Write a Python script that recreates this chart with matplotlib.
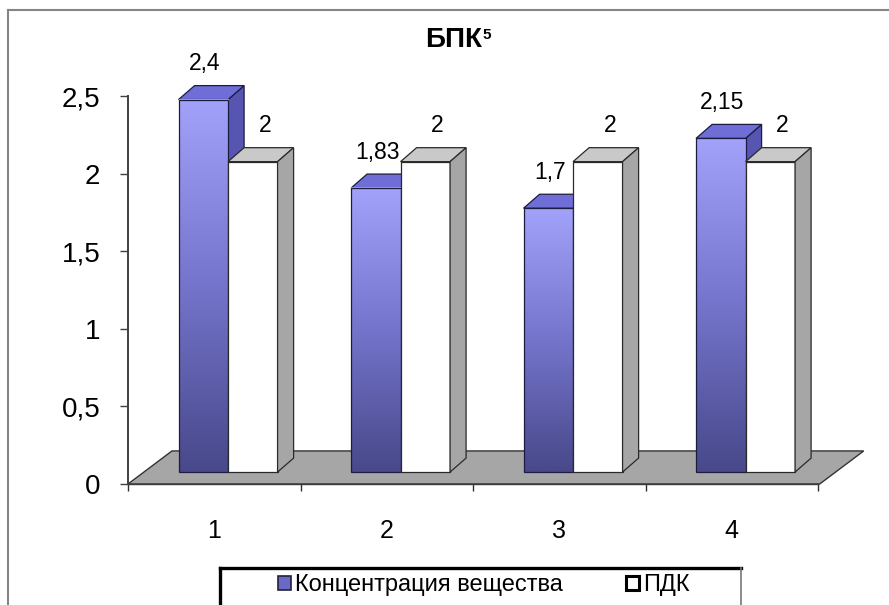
import numpy as np
import matplotlib
matplotlib.use('Agg')
import matplotlib.pyplot as plt
from matplotlib.patches import Polygon, Rectangle, Patch
from matplotlib.colors import LinearSegmentedColormap
from matplotlib.lines import Line2D

# ---- data ----
categories = ['1', '2', '3', '4']
concentration = [2.4, 1.83, 1.7, 2.15]
pdk = [2, 2, 2, 2]
conc_labels = ['2,4', '1,83', '1,7', '2,15']
pdk_labels = ['2', '2', '2', '2']
y_ticks = [0, 0.5, 1, 1.5, 2, 2.5]
y_tick_labels = ['0', '0,5', '1', '1,5', '2', '2,5']
series_names = ['Концентрация вещества', 'ПДК']
title_main = 'БПК'
title_sup = '5'

plt.rcParams['font.family'] = ['Liberation Sans', 'DejaVu Sans']

W, H = 889, 605
fig = plt.figure(figsize=(W / 100, H / 100), dpi=100)
fig.patch.set_facecolor('white')

ax = fig.add_axes([128 / W, 1 - 484 / H, 690 / W, 388 / H])
ax.patch.set_visible(False)

# oblique 3-D projection offsets (data units)
bar_w = 0.287
plane_dx, plane_dy = 0.08, 0.077     # bar front plane relative to the axis plane
depth_dx, depth_dy = 0.093, 0.09     # bar depth
floor_dx, floor_dy = 0.255, 0.213    # floor depth
floor_right = 4.01

blue_cmap = LinearSegmentedColormap.from_list(
    'bluebar', ['#48488a', '#7474cc', '#a2a2fa'])
edge_blue = '#1c1c40'
edge_gray = '#2a2a2a'

# floor
floor = Polygon([(0, 0), (floor_right, 0),
                 (floor_right + floor_dx, floor_dy), (floor_dx, floor_dy)],
                closed=True, facecolor='#a6a6a6', edgecolor='#333333',
                lw=1.0, zorder=1, clip_on=False)
ax.add_patch(floor)


def box_faces(x0, v):
    y0 = plane_dy
    yt = plane_dy + v
    top = [(x0, yt), (x0 + bar_w, yt),
           (x0 + bar_w + depth_dx, yt + depth_dy), (x0 + depth_dx, yt + depth_dy)]
    side = [(x0 + bar_w, y0), (x0 + bar_w + depth_dx, y0 + depth_dy),
            (x0 + bar_w + depth_dx, yt + depth_dy), (x0 + bar_w, yt)]
    return top, side


label_gap = 0.23
grad = np.linspace(0, 1, 256).reshape(-1, 1)
z = 2
for i in range(len(categories)):
    base = i + 0.5 + plane_dx
    # concentration bar (left)
    x0 = base - bar_w
    v = concentration[i]
    top, side = box_faces(x0, v)
    ax.add_patch(Polygon(side, closed=True, facecolor='#5656b2',
                         edgecolor=edge_blue, lw=0.9, zorder=z, clip_on=False))
    ax.add_patch(Polygon(top, closed=True, facecolor='#6e6ed6',
                         edgecolor=edge_blue, lw=0.9, zorder=z + 0.1, clip_on=False))
    ax.imshow(grad, extent=[x0, x0 + bar_w, plane_dy, plane_dy + v],
              origin='lower', cmap=blue_cmap, aspect='auto',
              zorder=z + 0.2, clip_on=False, interpolation='bilinear')
    ax.add_patch(Rectangle((x0, plane_dy), bar_w, v, fill=False,
                           edgecolor=edge_blue, lw=0.9, zorder=z + 0.3, clip_on=False))
    ax.text(x0 + bar_w / 2 + 0.01, plane_dy + v + label_gap, conc_labels[i],
            ha='center', va='center', fontsize=16.5, zorder=10)

    # limit bar (right)
    x1 = base
    v2 = pdk[i]
    ax.add_patch(Rectangle((x1, plane_dy), bar_w, v2, facecolor='white',
                           edgecolor=edge_gray, lw=0.9, zorder=z + 0.4, clip_on=False))
    top, side = box_faces(x1, v2)
    ax.add_patch(Polygon(top, closed=True, facecolor='#c9c9c9',
                         edgecolor=edge_gray, lw=0.9, zorder=z + 0.5, clip_on=False))
    ax.add_patch(Polygon(side, closed=True, facecolor='#a6a6a6',
                         edgecolor=edge_gray, lw=0.9, zorder=z + 0.6, clip_on=False))
    ax.text(x1 + bar_w / 2 + 0.07, plane_dy + v2 + label_gap, pdk_labels[i],
            ha='center', va='center', fontsize=16.5, zorder=10)
    z += 1

ax.set_xlim(0, 4)
ax.set_ylim(0, 2.5)

# axes styling
for s in ('top', 'right'):
    ax.spines[s].set_visible(False)
ax.spines['left'].set_color('#404040')
ax.spines['left'].set_linewidth(1.4)
ax.spines['bottom'].set_color('#3a3a3a')
ax.spines['bottom'].set_linewidth(1.0)
ax.spines['left'].set_zorder(20)
ax.spines['bottom'].set_zorder(20)

ax.set_yticks(y_ticks, y_tick_labels, fontsize=20)
ax.tick_params(axis='y', direction='out', length=5.8, width=1,
               color='#404040', pad=14)
ax.set_xticks(np.arange(len(categories)) + 0.5, categories, fontsize=18)
ax.set_xticks(np.arange(len(categories) + 1), minor=True)
ax.tick_params(axis='x', which='major', length=0, pad=25)
ax.tick_params(axis='x', which='minor', direction='out', length=5,
               width=1, color='#303030')

# title with superscript
fig.text(482 / W, 1 - 47 / H, title_main, ha='right', va='baseline',
         fontsize=20, fontweight='bold')
fig.text(482 / W, 1 - 39 / H, title_sup, ha='left', va='baseline',
         fontsize=11, fontweight='bold')

# outer chart frame
fig.add_artist(Line2D([8 / W, 8 / W], [0, 1 - 10 / H], transform=fig.transFigure,
                      color='#858585', lw=1.5))
fig.add_artist(Line2D([8 / W, 1], [1 - 10 / H, 1 - 10 / H], transform=fig.transFigure,
                      color='#858585', lw=1.5))

# legend box
fig.add_artist(Line2D([220 / W, 741 / W], [1 - 568 / H, 1 - 568 / H],
                      transform=fig.transFigure, color='black', lw=2.4))
fig.add_artist(Line2D([220 / W, 220 / W], [0, 1 - 568 / H],
                      transform=fig.transFigure, color='black', lw=2.4))
fig.add_artist(Line2D([741 / W, 741 / W], [0, 1 - 568 / H],
                      transform=fig.transFigure, color='#777777', lw=1.2))

handles = [Patch(facecolor='#6a6ac4', edgecolor='#202040', lw=1.2),
           Patch(facecolor='white', edgecolor='black', lw=2.2)]
fig.legend(handles, series_names, loc='center left',
           bbox_to_anchor=(278 / W, 1 - 585 / H), ncol=2, frameon=False,
           fontsize=17, handlelength=0.55, handleheight=0.55,
           handletextpad=0.15, columnspacing=2.7, borderpad=0, borderaxespad=0)

fig.savefig('out.png', dpi=100, facecolor='white')
